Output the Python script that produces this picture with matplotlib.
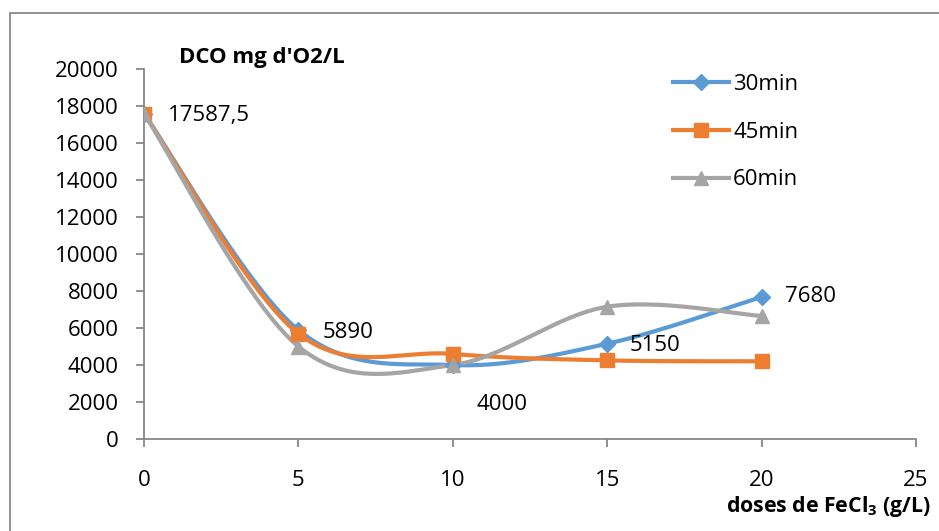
import numpy as np
import matplotlib.pyplot as plt
from matplotlib.patches import Rectangle

plt.rcParams['font.family'] = ['Open Sans', 'DejaVu Sans']
plt.rcParams['mathtext.fontset'] = 'custom'
plt.rcParams['mathtext.bf'] = 'Open Sans:bold'

doses = [0, 5, 10, 15, 20]
dco_30 = [17587.5, 5890, 4000, 5150, 7680]
dco_45 = [17587.5, 5700, 4600, 4250, 4200]
dco_60 = [17587.5, 5000, 4000, 7150, 6650]
labels_30 = ['17587,5', '5890', '4000', '5150', '7680']
label_offsets = [(24, -2), (24, -2), (24, -40), (22, -2), (23, 0)]

series = [
    ('30min', dco_30, '#5B9BD5', 'D', 8),
    ('45min', dco_45, '#ED7D31', 's', 10),
    ('60min', dco_60, '#A5A5A5', '^', 10),
]


def smooth(x, y, n=40):
    # Excel-like smoothed line: cubic Bezier with Catmull-Rom control points
    x = np.asarray(x, float)
    y = np.asarray(y, float)
    px, py = [], []
    m = len(x)
    for i in range(m - 1):
        x0, y0 = (x[i - 1], y[i - 1]) if i > 0 else (x[i], y[i])
        x3, y3 = (x[i + 2], y[i + 2]) if i + 2 < m else (x[i + 1], y[i + 1])
        c1x = x[i] + (x[i + 1] - x0) / 6
        c1y = y[i] + (y[i + 1] - y0) / 6
        c2x = x[i + 1] - (x3 - x[i]) / 6
        c2y = y[i + 1] - (y3 - y[i]) / 6
        t = np.linspace(0, 1, n)
        a, b, c, d = (1 - t) ** 3, 3 * t * (1 - t) ** 2, 3 * t ** 2 * (1 - t), t ** 3
        px.extend(a * x[i] + b * c1x + c * c2x + d * x[i + 1])
        py.extend(a * y[i] + b * c1y + c * c2y + d * y[i + 1])
    return px, py


fig = plt.figure(figsize=(9.39, 5.31), dpi=100)
ax = fig.add_axes([144 / 939, 1 - 439 / 531, 772 / 939, 370 / 531])

handles = []
for name, vals, col, mk, ms in series:
    sx, sy = smooth(doses, vals)
    ax.plot(sx, sy, color=col, lw=3, solid_capstyle='round', zorder=2)
    ax.plot(doses, vals, ls='none', marker=mk, ms=ms, color=col, zorder=3)
    h, = ax.plot([], [], color=col, lw=3, marker=mk, ms=ms, label=name)
    handles.append(h)

for x, y, txt, off in zip(doses, dco_30, labels_30, label_offsets):
    ax.annotate(txt, (x, y), xytext=off, textcoords='offset pixels',
                ha='left', va='center', fontsize=16, color='black')

ax.set_xlim(0, 25)
ax.set_ylim(0, 20000)
ax.set_xticks([0, 5, 10, 15, 20, 25])
ax.set_yticks(range(0, 20001, 2000))
for side in ['top', 'right']:
    ax.spines[side].set_visible(False)
for side in ['left', 'bottom']:
    ax.spines[side].set_color('#878787')
    ax.spines[side].set_linewidth(1.3)
ax.tick_params(axis='both', colors='#878787', labelcolor='black',
               labelsize=16, length=6, width=1.3, direction='out')
ax.tick_params(axis='x', pad=16)
ax.tick_params(axis='y', pad=12)

ax.legend(handles=handles, loc='upper left', bbox_to_anchor=(673 / 939, 1 - 74 / 531),
          bbox_transform=fig.transFigure, frameon=False, fontsize=16,
          handlelength=2.5, labelspacing=1.2, handletextpad=0.2,
          borderpad=0, borderaxespad=0)

fig.text(179 / 939, 1 - 58 / 531, "DCO mg d'O2/L", fontsize=16, fontweight='bold',
         ha='left', va='center')
fig.text(726 / 939, 1 - 512 / 531, r'doses de FeCl$_\mathbf{3}$ (g/L)', fontsize=15.3,
         fontweight='bold', ha='left', va='baseline')

fig.patches.append(Rectangle((10 / 939, -0.1), 1.2, 1.1 - 13 / 531, transform=fig.transFigure,
                             fill=False, edgecolor='#7f7f7f', lw=1.2))

fig.savefig('out.png', dpi=100)
